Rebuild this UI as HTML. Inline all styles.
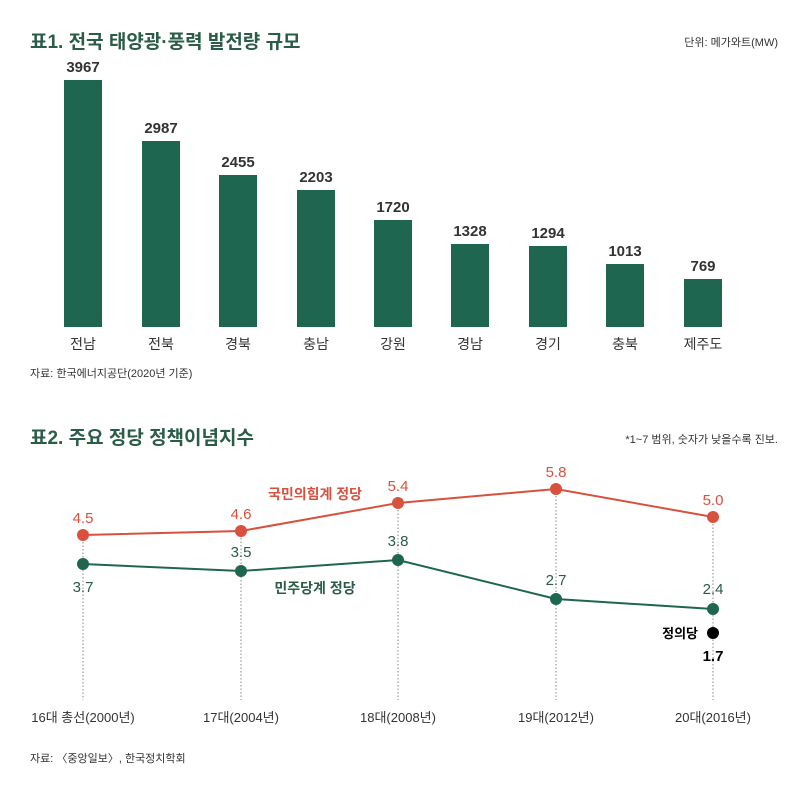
<!DOCTYPE html><html><head><meta charset="utf-8"><style>body{margin:0;background:#fff}svg text{font-family:"Liberation Sans","Noto Sans CJK KR",sans-serif}</style></head><body>
<svg width="800" height="792" xmlns="http://www.w3.org/2000/svg">
<text x="30" y="48" font-size="19" font-weight="bold" fill="#2b5c48">표1. 전국 태양광·풍력 발전량 규모</text>
<text x="778" y="46" font-size="11" fill="#333" text-anchor="end">단위: 메가와트(MW)</text>
<g fill="#1f6650">
<rect x="64" y="80" width="38" height="247"/><rect x="142" y="141" width="38" height="186"/><rect x="219" y="175" width="38" height="152"/><rect x="297" y="190" width="38" height="137"/><rect x="374" y="220" width="38" height="107"/><rect x="451" y="244" width="38" height="83"/><rect x="529" y="246" width="38" height="81"/><rect x="606" y="264" width="38" height="63"/><rect x="684" y="279" width="38" height="48"/></g>
<g font-size="15" font-weight="bold" fill="#333" text-anchor="middle">
<text x="83" y="72">3967</text><text x="161" y="133">2987</text><text x="238" y="167">2455</text><text x="316" y="182">2203</text><text x="393" y="212">1720</text><text x="470" y="236">1328</text><text x="548" y="238">1294</text><text x="625" y="256">1013</text><text x="703" y="271">769</text></g>
<g font-size="14" fill="#333" text-anchor="middle">
<text x="83" y="349">전남</text><text x="161" y="349">전북</text><text x="238" y="349">경북</text><text x="316" y="349">충남</text><text x="393" y="349">강원</text><text x="470" y="349">경남</text><text x="548" y="349">경기</text><text x="625" y="349">충북</text><text x="703" y="349">제주도</text></g>
<text x="30" y="377" font-size="11" fill="#333">자료: 한국에너지공단(2020년 기준)</text>
<text x="30" y="444" font-size="19" font-weight="bold" fill="#2b5c48">표2. 주요 정당 정책이념지수</text>
<text x="778" y="443" font-size="11" fill="#333" text-anchor="end">*1~7 범위, 숫자가 낮을수록 진보.</text>
<g stroke="#888" stroke-dasharray="1.5,2" stroke-width="1">
<line x1="83" y1="535" x2="83" y2="700"/><line x1="241" y1="531" x2="241" y2="700"/><line x1="398" y1="503" x2="398" y2="700"/><line x1="556" y1="489" x2="556" y2="700"/><line x1="713" y1="517" x2="713" y2="700"/></g>
<polyline points="83,535 241,531 398,503 556,489 713,517" fill="none" stroke="#d8513f" stroke-width="2"/>
<polyline points="83,564 241,571 398,560 556,599 713,609" fill="none" stroke="#1f6650" stroke-width="2"/>
<g fill="#d8513f"><circle cx="83" cy="535" r="6"/><circle cx="241" cy="531" r="6"/><circle cx="398" cy="503" r="6"/><circle cx="556" cy="489" r="6"/><circle cx="713" cy="517" r="6"/></g>
<g fill="#1f6650"><circle cx="83" cy="564" r="6"/><circle cx="241" cy="571" r="6"/><circle cx="398" cy="560" r="6"/><circle cx="556" cy="599" r="6"/><circle cx="713" cy="609" r="6"/></g>
<circle cx="713" cy="633" r="6" fill="#000"/>
<g font-size="15" fill="#d8513f" text-anchor="middle"><text x="83" y="523">4.5</text><text x="241" y="519">4.6</text><text x="398" y="491">5.4</text><text x="556" y="477">5.8</text><text x="713" y="505">5.0</text></g>
<text x="315" y="499" font-size="14" font-weight="bold" fill="#d8513f" text-anchor="middle">국민의힘계 정당</text>
<g font-size="15" fill="#2b5c48" text-anchor="middle"><text x="83" y="592">3.7</text><text x="241" y="557">3.5</text><text x="398" y="546">3.8</text><text x="556" y="585">2.7</text><text x="713" y="594">2.4</text></g>
<text x="315" y="593" font-size="14" font-weight="bold" fill="#2b5c48" text-anchor="middle">민주당계 정당</text>
<text x="698" y="638" font-size="13" font-weight="bold" fill="#000" text-anchor="end">정의당</text>
<text x="713" y="661" font-size="15" font-weight="bold" fill="#000" text-anchor="middle">1.7</text>
<g font-size="13" fill="#333" text-anchor="middle"><text x="83" y="722">16대 총선(2000년)</text><text x="241" y="722">17대(2004년)</text><text x="398" y="722">18대(2008년)</text><text x="556" y="722">19대(2012년)</text><text x="713" y="722">20대(2016년)</text></g>
<text x="30" y="762" font-size="11" fill="#333">자료: 〈중앙일보〉, 한국정치학회</text>
</svg></body></html>
